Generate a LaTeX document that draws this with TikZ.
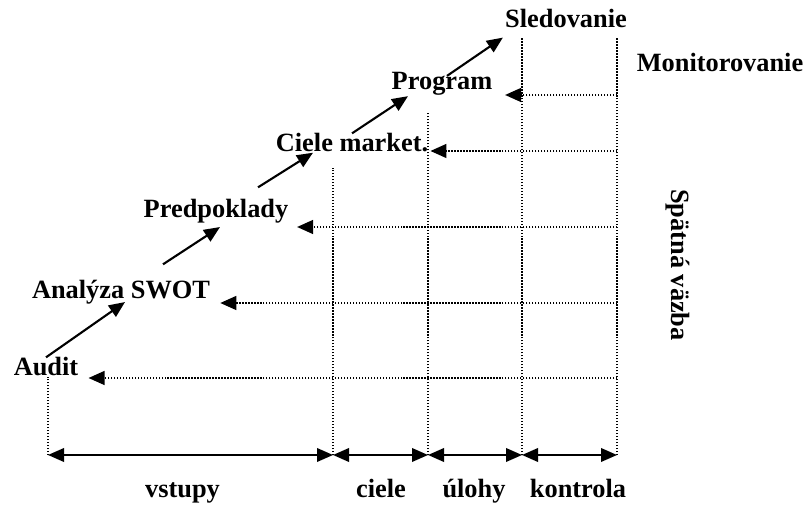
\documentclass[tikz,border=0pt]{standalone}
\usepackage{fontspec}
\setmainfont{Liberation Serif}
\usetikzlibrary{arrows.meta,positioning,calc}
\tikzset{
  lbl/.style={font=\fontsize{15}{18}\selectfont\bfseries,inner sep=0pt,anchor=base},
  arr/.style={-{Triangle[length=0.32cm,width=0.27cm]},line width=1.2pt},
  dbl/.style={{Triangle[length=0.32cm,width=0.27cm]}-{Triangle[length=0.32cm,width=0.27cm]},line width=1.2pt},
  fb/.style={-{Triangle[length=0.32cm,width=0.28cm]},line width=0.8pt,dash pattern=on 0.8pt off 0.9pt},
  grid/.style={line width=0.8pt,dash pattern=on 0.8pt off 0.9pt},
}

\begin{document}
\begin{tikzpicture}
  \useasboundingbox (0,0) rectangle (16.2,10.34);
  % stages of the plan
  \node[lbl] (audit)   at (0.92,2.82) {Audit};
  \node[lbl] (swot)    at (2.42,4.36) {Analýza SWOT};
  \node[lbl] (pred)    at (4.32,5.98) {Predpoklady};
  \node[lbl] (ciele)   at (7.04,7.30) {Ciele market.};
  \node[lbl] (program) at (8.84,8.54) {Program};
  \node[lbl] (sled)    at (11.32,9.78) {Sledovanie};
  \node[lbl] (monitor) at (14.40,8.90) {Monitorovanie};
  \node[lbl,rotate=-90,anchor=center] (spat) at (13.56,5.04) {Spätná väzba};
  % bottom labels
  \node[lbl] (vstupy)   at (3.65,0.38)  {vstupy};
  \node[lbl] (goals)    at (7.62,0.38)  {ciele};
  \node[lbl] (tasks)    at (9.48,0.38)  {úlohy};
  \node[lbl] (kontrola) at (11.56,0.38) {kontrola};
  % grid points
  \coordinate (b0) at (0.96,1.24);
  \coordinate (b1) at (6.66,1.24);
  \coordinate (b2) at (8.56,1.24);
  \coordinate (b3) at (10.44,1.24);
  \coordinate (b4) at (12.34,1.24);
  \coordinate (t1) at (6.66,6.98);
  \coordinate (t2) at (8.56,8.10);
  \coordinate (t3) at (10.44,9.60);
  \coordinate (t4) at (12.34,9.60);
  \coordinate (r1) at (12.34,8.44);
  \coordinate (r2) at (12.34,7.32);
  \coordinate (r3) at (12.34,5.80);
  \coordinate (r4) at (12.34,4.28);
  \coordinate (r5) at (12.34,2.78);
  % vertical dotted lines
  \draw[grid] (b0) -- (b0 |- audit.south);
  \draw[grid] (b1) -- (t1);
  \draw[grid] (b2) -- (t2);
  \draw[grid] (b3) -- (t3);
  \draw[grid] (b4) -- (t4);
  % feedback
  \draw[fb,shorten >=2.5mm] (r1) -- (r1 -| program.east);
  \draw[fb,shorten >=0.4mm] (r2) -- (r2 -| ciele.east);
  \draw[fb,shorten >=1.7mm] (r3) -- (r3 -| pred.east);
  \draw[fb,shorten >=2mm]   (r4) -- (r4 -| swot.east);
  \draw[fb,shorten >=2mm]   (r5) -- (r5 -| audit.east);
  % steps
  \draw[arr] (audit.north) -- ([shift={(0.08,0.06)}]swot.south);
  \draw[arr] ([shift={(0.84,0.32)}]swot.north) -- ([shift={(0.08,-0.06)}]pred.south);
  \draw[arr] ([shift={(0.84,0.24)}]pred.north) -- ([xshift=-0.78cm]ciele.south);
  \draw[arr] (ciele.north) -- ([xshift=-0.68cm]program.south);
  \draw[arr] ([shift={(0.1,-0.07)}]program.north) -- ([shift={(-0.04,-0.18)}]sled.south west);
  % phases
  \draw[dbl] (b0) -- (b1);
  \draw[dbl] (b1) -- (b2);
  \draw[dbl] (b2) -- (b3);
  \draw[dbl] (b3) -- (b4);
\end{tikzpicture}
\end{document}
